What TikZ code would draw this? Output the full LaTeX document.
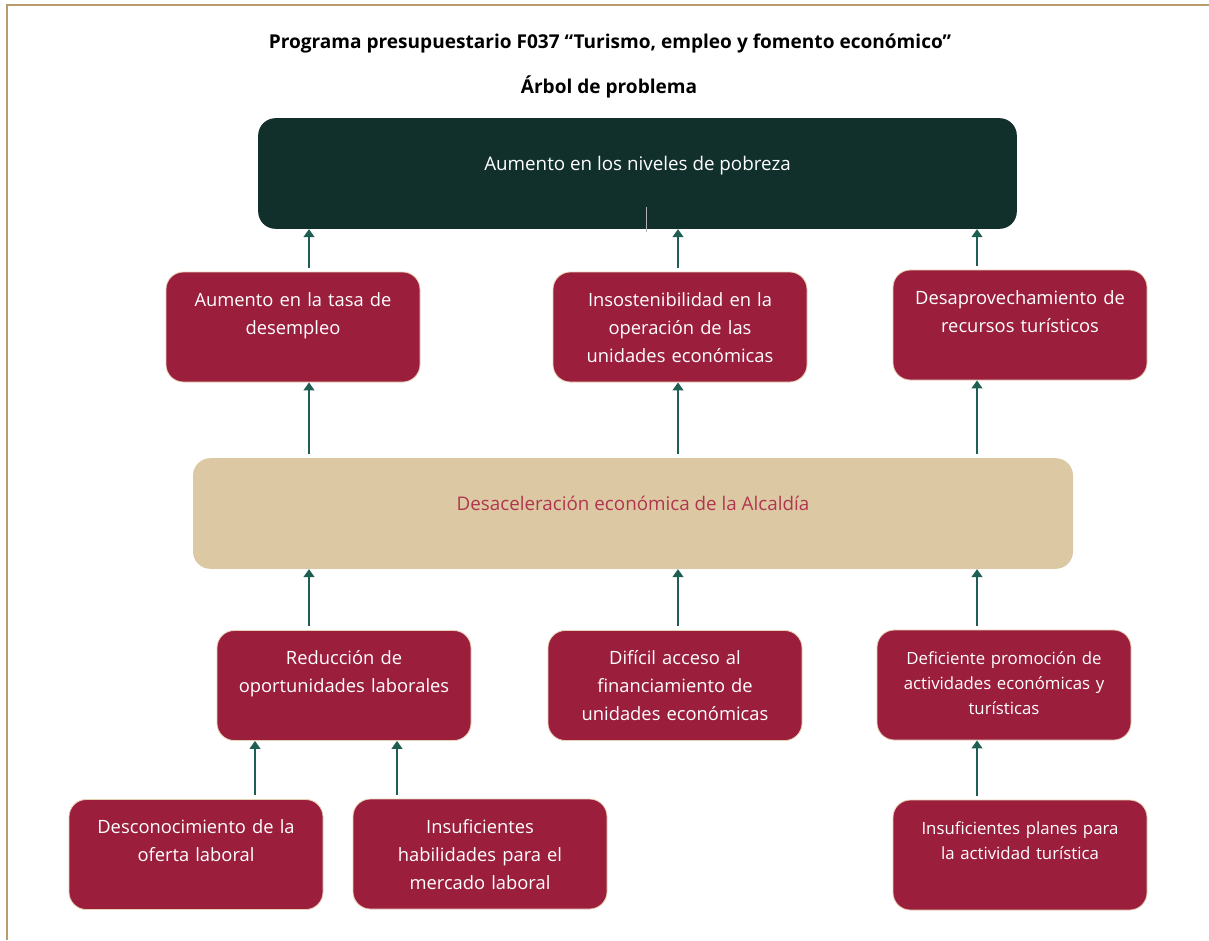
\documentclass[tikz,border=0pt]{standalone}
\usepackage{fontspec}
\setmainfont{Open Sans}
\usetikzlibrary{arrows.meta}

\begin{document}
\begin{tikzpicture}
            [x=0.75pt, y=-0.75pt,
            box/.style={rounded corners=13pt, draw=boxedge, line width=0.6pt, fill=causered, text=white,
              minimum width=190.5pt, minimum height=82.5pt, inner sep=0pt, text width=182pt, align=center,
              text height=10pt, text depth=41.5pt, font=\fontsize{13.75}{21}\selectfont},
            small/.style={font=\fontsize{12.6}{18.75}\selectfont},
            band/.style={rounded corners=13pt, minimum height=83pt, inner sep=0pt,
              text height=9pt, text depth=13pt, font=\fontsize{14.1}{17}\selectfont},
            title/.style={font=\fontsize{14.3}{17}\bfseries},
            link/.style={draw=arrowteal, line width=2pt, -{Triangle[width=8pt,length=6pt]}, shorten <=3pt},
            ]
            \definecolor{causered}{HTML}{9B1F3D}
            \definecolor{boxedge}{HTML}{E8D2B4}
            \definecolor{topgreen}{HTML}{12302B}
            \definecolor{midtan}{HTML}{DCC9A3}
            \definecolor{midred}{HTML}{B0364F}
            \definecolor{arrowteal}{HTML}{1F5E52}
            \definecolor{frameline}{HTML}{B99C6E}
            \useasboundingbox (0,0) rectangle (1209,940);
            \draw[frameline, line width=1.1pt] (7,940) -- (7,5) -- (1209,5);

            \node[title] (titulo) at (610,43) {Programa presupuestario F037 “Turismo, empleo y fomento económico”};
            \node[title] (arbol) at (609,87) {Árbol de problema};

            \node[band, fill=topgreen, text=white, minimum width=569pt] (pobreza) at (637.5,173.5) {Aumento en los niveles de pobreza};
            \draw[gray!60, line width=0.6pt] (646,207) -- (646,232);

            \node[box] (tasa) at (293,327) {Aumento en la tasa de\\desempleo};
            \node[box] (insost) at (680,327) {Insostenibilidad en la\\operación de las\\unidades económicas};
            \node[box] (desap) at (1020,325) {Desaprovechamiento de\\recursos turísticos};

            \node[band, fill=midtan, text=midred, minimum width=660pt] (desac) at (633,513.5) {Desaceleración económica de la Alcaldía};

            \node[box] (reduc) at (344,685.5) {Reducción de\\oportunidades laborales};
            \node[box] (acceso) at (675,685.5) {Difícil acceso al\\financiamiento de\\unidades económicas};
            \node[box, small] (promo) at (1004,685) {Deficiente promoción de\\actividades económicas y\\turísticas};

            \node[box] (descon) at (196,854.5) {Desconocimiento de la\\oferta laboral};
            \node[box] (habil) at (480,854) {Insuficientes\\habilidades para el\\mercado laboral};
            \node[box, small] (planes) at (1020,855) {Insuficientes planes para\\la actividad turística};

            \coordinate (colA) at (309,0);
            \coordinate (colB) at (678,0);
            \coordinate (colC) at (977,0);
            \coordinate (colD) at (255,0);
            \coordinate (colE) at (397,0);

            \draw[link] (tasa.north -| colA) -- (pobreza.south -| colA);
            \draw[link] (insost.north -| colB) -- (pobreza.south -| colB);
            \draw[link] (desap.north -| colC) -- (pobreza.south -| colC);
            \draw[link] (desac.north -| colA) -- (tasa.south -| colA);
            \draw[link] (desac.north -| colB) -- (insost.south -| colB);
            \draw[link] (desac.north -| colC) -- (desap.south -| colC);
            \draw[link] (reduc.north -| colA) -- (desac.south -| colA);
            \draw[link] (acceso.north -| colB) -- (desac.south -| colB);
            \draw[link] (promo.north -| colC) -- (desac.south -| colC);
            \draw[link] (descon.north -| colD) -- (reduc.south -| colD);
            \draw[link] (habil.north -| colE) -- (reduc.south -| colE);
            \draw[link] (planes.north -| colC) -- (promo.south -| colC);
\end{tikzpicture}
\end{document}
